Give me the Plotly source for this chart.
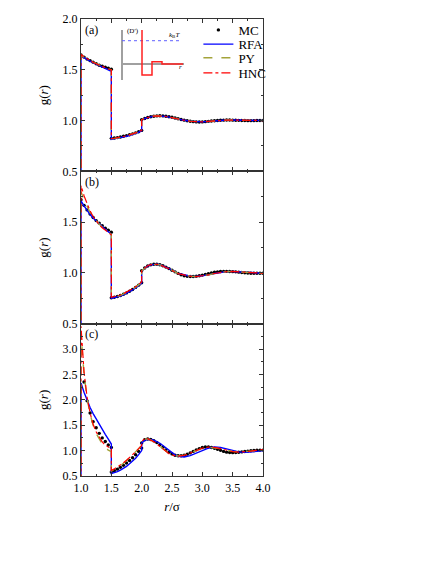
import numpy as np
import plotly.graph_objects as go
from plotly.subplots import make_subplots

# r grids: theory curves start at g=0 for r<1, jumps at r=1.5 and r=2.0
r_line = ([1.0] + list(np.round(np.arange(1.0, 1.501, 0.05), 2))
          + list(np.round(np.arange(1.5, 2.001, 0.05), 2))
          + list(np.round(np.arange(2.0, 2.601, 0.05), 2))
          + list(np.round(np.arange(2.7, 4.001, 0.1), 2)))
r_mc = (list(np.round(np.arange(1.0, 1.501, 0.05), 2))
        + list(np.round(np.arange(1.5, 2.001, 0.05), 2))
        + list(np.round(np.arange(2.0, 4.001, 0.05), 2)))

# panel (a)
mc_a = [1.645, 1.625, 1.605, 1.59, 1.575, 1.56, 1.545, 1.535, 1.525, 1.515, 1.505,
        0.825, 0.828, 0.832, 0.838, 0.845, 0.852, 0.86, 0.869, 0.879, 0.89, 0.903,
        1.008, 1.02, 1.03, 1.038, 1.043, 1.046, 1.047, 1.046, 1.043, 1.038,
        1.032, 1.025, 1.018, 1.011, 1.004, 0.998, 0.993, 0.989, 0.987, 0.986,
        0.987, 0.989, 0.992, 0.995, 0.998, 1.001, 1.003, 1.004, 1.005, 1.005,
        1.004, 1.003, 1.002, 1.001, 1.0, 0.999, 0.999, 0.999, 1.0, 1.0, 1.0]
rfa_a = [1.64, 1.62, 1.60, 1.585, 1.57, 1.555, 1.54, 1.525, 1.51, 1.50, 1.485,
         0.815, 0.82, 0.825, 0.83, 0.837, 0.845, 0.853, 0.862, 0.872, 0.885, 0.90,
         1.005, 1.02, 1.03, 1.038, 1.043, 1.046, 1.046, 1.044, 1.04, 1.034, 1.027, 1.02, 1.012,
         1.003, 0.993, 0.987, 0.987, 0.991, 0.997, 1.002, 1.005, 1.005, 1.003, 1.001, 0.999, 0.999, 1.0]
py_a = [1.645, 1.625, 1.605, 1.59, 1.575, 1.56, 1.545, 1.53, 1.52, 1.51, 1.50,
        0.82, 0.823, 0.828, 0.834, 0.841, 0.849, 0.857, 0.866, 0.876, 0.888, 0.902,
        1.008, 1.022, 1.032, 1.04, 1.045, 1.047, 1.047, 1.045, 1.041, 1.035, 1.028, 1.02, 1.012,
        1.003, 0.993, 0.987, 0.987, 0.991, 0.997, 1.002, 1.005, 1.005, 1.003, 1.001, 0.999, 0.999, 1.0]
hnc_a = [1.65, 1.628, 1.607, 1.59, 1.574, 1.559, 1.545, 1.531, 1.519, 1.508, 1.498,
         0.822, 0.826, 0.83, 0.836, 0.843, 0.85, 0.858, 0.867, 0.877, 0.889, 0.903,
         1.007, 1.021, 1.031, 1.039, 1.044, 1.046, 1.046, 1.044, 1.04, 1.034, 1.027, 1.02, 1.012,
         1.003, 0.993, 0.987, 0.987, 0.991, 0.997, 1.002, 1.005, 1.005, 1.003, 1.001, 0.999, 0.999, 1.0]

# panel (b)
mc_b = [1.72, 1.665, 1.62, 1.58, 1.545, 1.515, 1.49, 1.465, 1.44, 1.42, 1.40,
        0.755, 0.76, 0.767, 0.777, 0.789, 0.803, 0.819, 0.837, 0.857, 0.879, 0.903,
        1.022, 1.048, 1.068, 1.079, 1.085, 1.085, 1.08, 1.07, 1.057, 1.042,
        1.026, 1.01, 0.995, 0.982, 0.972, 0.966, 0.964, 0.964, 0.967, 0.972,
        0.978, 0.985, 0.993, 1.0, 1.006, 1.01, 1.013, 1.015, 1.015, 1.014,
        1.012, 1.01, 1.007, 1.004, 1.001, 0.999, 0.997, 0.996, 0.996, 0.996, 0.997]
rfa_b = [1.71, 1.66, 1.615, 1.575, 1.54, 1.51, 1.48, 1.455, 1.43, 1.405, 1.38,
         0.75, 0.755, 0.762, 0.772, 0.784, 0.798, 0.815, 0.833, 0.853, 0.876, 0.90,
         1.02, 1.048, 1.068, 1.079, 1.085, 1.085, 1.08, 1.07, 1.057, 1.042, 1.026, 1.01, 0.995,
         0.982, 0.967, 0.964, 0.97, 0.981, 0.994, 1.005, 1.012, 1.014, 1.012, 1.008, 1.003, 0.999, 0.997]
py_b = [1.80, 1.72, 1.65, 1.595, 1.55, 1.51, 1.48, 1.45, 1.425, 1.40, 1.38,
        0.755, 0.76, 0.768, 0.778, 0.79, 0.805, 0.82, 0.838, 0.858, 0.88, 0.905,
        1.022, 1.047, 1.067, 1.078, 1.084, 1.084, 1.079, 1.069, 1.056, 1.041, 1.025, 1.009, 0.994,
        0.981, 0.967, 0.964, 0.97, 0.981, 0.994, 1.005, 1.012, 1.014, 1.012, 1.008, 1.003, 0.999, 0.997]
hnc_b = [1.86, 1.76, 1.68, 1.61, 1.555, 1.51, 1.475, 1.445, 1.42, 1.395, 1.375,
         0.76, 0.765, 0.772, 0.782, 0.795, 0.81, 0.826, 0.844, 0.864, 0.886, 0.91,
         1.025, 1.05, 1.07, 1.081, 1.086, 1.085, 1.079, 1.068, 1.055, 1.04, 1.024, 1.008, 0.993,
         0.98, 0.966, 0.963, 0.969, 0.981, 0.994, 1.005, 1.012, 1.014, 1.012, 1.008, 1.003, 0.999, 0.997]

# panel (c)
mc_c = [2.95, 2.35, 1.98, 1.74, 1.57, 1.45, 1.34, 1.25, 1.18, 1.11, 1.06,
        0.58, 0.605, 0.635, 0.67, 0.71, 0.755, 0.805, 0.86, 0.92, 0.985, 1.05,
        1.15, 1.215, 1.23, 1.22, 1.195, 1.16, 1.115, 1.065, 1.015, 0.97,
        0.935, 0.91, 0.9, 0.9, 0.91, 0.93, 0.955, 0.985, 1.015, 1.04,
        1.06, 1.07, 1.07, 1.06, 1.045, 1.025, 1.005, 0.985, 0.97, 0.962,
        0.96, 0.962, 0.968, 0.975, 0.983, 0.99, 0.997, 1.002, 1.006, 1.009, 1.01]
rfa_c = [2.33, 2.15, 1.99, 1.85, 1.73, 1.62, 1.52, 1.42, 1.32, 1.225, 1.13,
         0.55, 0.565, 0.585, 0.615, 0.65, 0.69, 0.74, 0.79, 0.85, 0.92, 1.0,
         1.15, 1.2, 1.22, 1.22, 1.205, 1.18, 1.145, 1.1, 1.05, 1.0, 0.95, 0.915, 0.89,
         0.875, 0.9, 0.95, 1.005, 1.05, 1.07, 1.06, 1.035, 1.0, 0.975, 0.965, 0.97, 0.985, 1.0]
py_c = [3.3, 2.5, 2.03, 1.72, 1.5, 1.34, 1.22, 1.13, 1.06, 1.01, 0.98,
        0.6, 0.63, 0.665, 0.705, 0.75, 0.8, 0.855, 0.91, 0.97, 1.035, 1.1,
        1.17, 1.225, 1.23, 1.21, 1.175, 1.13, 1.085, 1.035, 0.985, 0.945, 0.915, 0.9, 0.895,
        0.91, 0.955, 1.005, 1.045, 1.065, 1.06, 1.04, 1.01, 0.985, 0.975, 0.978, 0.99, 1.0, 1.01]
hnc_c = [3.45, 2.55, 2.05, 1.74, 1.52, 1.37, 1.26, 1.17, 1.11, 1.07, 1.05,
         0.61, 0.64, 0.675, 0.715, 0.76, 0.81, 0.86, 0.915, 0.975, 1.04, 1.1,
         1.18, 1.235, 1.235, 1.21, 1.175, 1.13, 1.08, 1.03, 0.98, 0.94, 0.91, 0.895, 0.89,
         0.905, 0.95, 1.005, 1.05, 1.07, 1.065, 1.04, 1.005, 0.98, 0.97, 0.975, 0.99, 1.005, 1.02]

# inset: sketch of the potential
inset_r = [1.0, 1.0, 1.5, 1.5, 2.0, 2.0, 3.05]
inset_phi = [1.46, -0.47, -0.47, 0.1, 0.1, 0.0, 0.0]
kt_r = [0.0, 3.0]
kt_phi = [1.0, 1.0]

FONT = "Liberation Serif, Times New Roman, serif"
AX = "#333333"

panels = [
    (1, mc_a, rfa_a, py_a, hnc_a, "(a)"),
    (2, mc_b, rfa_b, py_b, hnc_b, "(b)"),
    (3, mc_c, rfa_c, py_c, hnc_c, "(c)"),
]

fig = make_subplots(rows=3, cols=1, shared_xaxes=True, vertical_spacing=0)

for row, mc, rfa, py, hnc, lab in panels:
    assert len(mc) == len(r_mc)
    first = row == 1
    fig.add_trace(go.Scatter(x=r_mc, y=mc, mode="markers", name="MC", legend="legend",
                             marker=dict(color="black", size=3.4),
                             showlegend=first), row=row, col=1)
    fig.add_trace(go.Scatter(x=r_line, y=[0.0] + rfa, mode="lines", name="RFA", legend="legend2",
                             line=dict(color="#0000ff", width=1.4),
                             showlegend=first), row=row, col=1)
    fig.add_trace(go.Scatter(x=r_line, y=[0.0] + py, mode="lines", name="PY", legend="legend3",
                             line=dict(color="#a3a33a", width=1.4, dash="dash"),
                             showlegend=first), row=row, col=1)
    fig.add_trace(go.Scatter(x=r_line, y=[0.0] + hnc, mode="lines", name="HNC", legend="legend4",
                             line=dict(color="#ff0000", width=1.2, dash="dashdot"),
                             showlegend=first), row=row, col=1)
    fig.add_annotation(text=lab, xref="x domain", yref="y domain", x=0.01, y=0.99,
                       xanchor="left", yanchor="top", showarrow=False,
                       font=dict(family=FONT, size=12, color="black"), row=row, col=1)

axis_common = dict(showline=True, linecolor=AX, linewidth=1.2, mirror="ticks",
                   ticks="inside", ticklen=4, tickcolor=AX, showgrid=False, zeroline=False,
                   tickfont=dict(family=FONT, size=12, color="black"))

for row in (1, 2, 3):
    fig.update_xaxes(range=[1.0, 4.0], tickvals=[1.0, 1.5, 2.0, 2.5, 3.0, 3.5, 4.0],
                     ticktext=["1.0", "1.5", "2.0", "2.5", "3.0", "3.5", "4.0"],
                     minor=dict(dtick=0.25, tick0=1.0, ticks="inside", ticklen=2, tickcolor=AX),
                     showticklabels=(row == 3), row=row, col=1, **axis_common)

ytitle = dict(text="g(<i>r</i>)", font=dict(family=FONT, size=13, color="black"), standoff=10)
fig.update_yaxes(range=[0.5, 2.0], tickvals=[0.5, 1.0, 1.5, 2.0],
                 ticktext=["0.5", "1.0", "1.5", "2.0"], title=ytitle,
                 minor=dict(dtick=0.25, tick0=0.5, ticks="inside", ticklen=2, tickcolor=AX),
                 row=1, col=1, **axis_common)
fig.update_yaxes(range=[0.5, 2.0], tickvals=[0.5, 1.0, 1.5],
                 ticktext=["0.5", "1.0", "1.5"], title=ytitle,
                 minor=dict(dtick=0.25, tick0=0.5, ticks="inside", ticklen=2, tickcolor=AX),
                 row=2, col=1, **axis_common)
fig.update_yaxes(range=[0.5, 3.5], tickvals=[0.5, 1.0, 1.5, 2.0, 2.5, 3.0],
                 ticktext=["0.5", "1.0", "1.5", "2.0", "2.5", "3.0"], title=ytitle,
                 minor=dict(dtick=0.25, tick0=0.5, ticks="inside", ticklen=2, tickcolor=AX),
                 row=3, col=1, **axis_common)
fig.update_xaxes(title=dict(text="<i>r</i>/σ", font=dict(family=FONT, size=13, color="black"),
                            standoff=8), row=3, col=1)

# inset axes inside panel (a)
fig.update_layout(
    xaxis4=dict(domain=[0.2253, 0.5659], anchor="y4", range=[0, 3.1], visible=True,
                showline=False, showgrid=False, showticklabels=False, ticks="",
                zeroline=True, zerolinecolor="#a0a0a0", zerolinewidth=2),
    yaxis4=dict(domain=[0.8665, 0.9759], anchor="x4", range=[-0.69, 1.46], visible=True,
                showline=False, showgrid=False, showticklabels=False, ticks="",
                zeroline=True, zerolinecolor="#a0a0a0", zerolinewidth=2),
)
fig.add_trace(go.Scatter(x=kt_r, y=kt_phi, mode="lines", xaxis="x4", yaxis="y4",
                         line=dict(color="#6060ff", width=1, dash="dot"), showlegend=False))
fig.add_trace(go.Scatter(x=inset_r, y=inset_phi, mode="lines", xaxis="x4", yaxis="y4",
                         line=dict(color="#ff2020", width=1.5), showlegend=False))
small = dict(family=FONT, size=7, color="black")
fig.add_annotation(text="φ(<i>r</i>)", xref="x4", yref="y4", x=-0.1, y=1.3,
                   xanchor="right", showarrow=False, font=small)
fig.add_annotation(text="(D')", xref="x4", yref="y4", x=0.95, y=1.4,
                   xanchor="right", showarrow=False, font=small)
fig.add_annotation(text="<i>k</i><sub>B</sub><i>T</i>", xref="x4", yref="y4", x=2.65, y=1.25,
                   showarrow=False, font=small)
fig.add_annotation(text="<i>r</i>", xref="x4", yref="y4", x=2.95, y=-0.15,
                   showarrow=False, font=small)

# one legend per entry so the rows sit as close as in the original
leg = dict(x=0.645, xanchor="left", yanchor="middle", bgcolor="rgba(0,0,0,0)",
           font=dict(family=FONT, size=13, color="black"), itemwidth=30)
# margins allow for the 8px body margin of the html page
fig.update_layout(
    width=436, height=564,
    margin=dict(l=73, r=181, t=11, b=96, autoexpand=False),
    paper_bgcolor="white", plot_bgcolor="white",
    font=dict(family=FONT, size=12, color="black"),
    legend=dict(y=0.976, **leg),
    legend2=dict(y=0.945, **leg),
    legend3=dict(y=0.915, **leg),
    legend4=dict(y=0.882, **leg),
)

fig.write_html("out.html")
